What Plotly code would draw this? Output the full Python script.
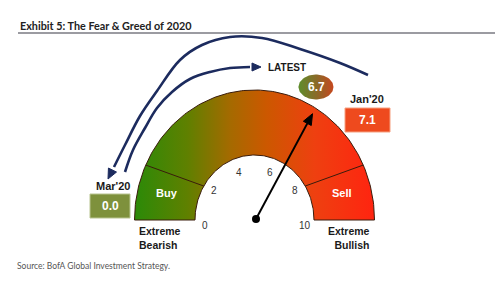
import numpy as np
import plotly.graph_objects as go

# ---------------- data ----------------
title_text = "Exhibit 5: The Fear & Greed of 2020"
source_text = "Source: BofA Global Investment Strategy."
scale_ticks = [0, 2, 4, 6, 8, 10]
zone_labels = ["Buy", "Sell"]
reading_labels = ["Mar'20", "LATEST", "Jan'20"]
reading_values = [0.0, 6.7, 7.1]
latest_value = 6.7
bear_label = ["Extreme", "Bearish"]
bull_label = ["Extreme", "Bullish"]

# ---------------- geometry / style ----------------
CX, CY = 254.5, 220
RXO, RYO = 120, 130
RXI, RYI = 59.5, 65
NAVY = "#1c2b5e"
EDGE = "#3a1c0c"
FONT = "Liberation Sans"

def theta(v):
    return np.pi * (1 - v / 10.0)

fig = go.Figure()

# gauge band
t = np.linspace(np.pi, 0, 160)
xo = CX + RXO * np.cos(t)
yo = CY - RYO * np.sin(t)
xi = CX + RXI * np.cos(t[::-1])
yi = CY - RYI * np.sin(t[::-1])
bx = np.concatenate([xo, xi, [xo[0]]])
by = np.concatenate([yo, yi, [yo[0]]])
fig.add_trace(go.Scatter(
    x=bx, y=by, mode="lines", fill="toself",
    fillgradient=dict(type="horizontal", start=CX - RXO, stop=CX + RXO,
                      colorscale=[[0, "#2b8a08"], [0.22, "#5f8000"], [0.4, "#a56a00"],
                                  [0.55, "#cc5800"], [0.75, "#ee4010"], [1, "#ff2410"]]),
    line=dict(color=EDGE, width=1), hoverinfo="skip"))

# zone dividers (Buy / Sell)
for a_out, a_in in [(np.radians(155), np.radians(148.5)), (np.radians(25), np.radians(31.5))]:
    fig.add_trace(go.Scatter(
        x=[CX + RXO * np.cos(a_out), CX + RXI * np.cos(a_in)],
        y=[CY - RYO * np.sin(a_out), CY - RYI * np.sin(a_in)],
        mode="lines", line=dict(color=EDGE, width=1), hoverinfo="skip"))

# needle
tn = theta(latest_value)
tip = np.array([CX + 0.95 * RXO * np.cos(tn), CY - 0.95 * RYO * np.sin(tn)])
piv = np.array([CX + 1.5, CY - 1])
d = (tip - piv) / np.linalg.norm(tip - piv)
p = np.array([-d[1], d[0]])
base = tip - 11 * d
fig.add_trace(go.Scatter(x=[piv[0], base[0]], y=[piv[1], base[1]], mode="lines",
                         line=dict(color="black", width=2), hoverinfo="skip"))
tri = [tip, base + 4.5 * p, base - 4.5 * p, tip]
fig.add_trace(go.Scatter(x=[q[0] for q in tri], y=[q[1] for q in tri], mode="lines",
                         fill="toself", fillcolor="black", line=dict(color="black", width=1),
                         hoverinfo="skip"))
fig.add_trace(go.Scatter(x=[piv[0]], y=[piv[1]], mode="markers",
                         marker=dict(color="black", size=8), hoverinfo="skip"))

# curved navy arrows
def arrow_curve(pts, head_tip, hl=10, hw=4.5):
    xs = [q[0] for q in pts]
    ys = [q[1] for q in pts]
    fig.add_trace(go.Scatter(x=xs, y=ys, mode="lines",
                             line=dict(color=NAVY, width=2.6, shape="spline"),
                             hoverinfo="skip"))
    end = np.array(pts[-1], dtype=float)
    tp = np.array(head_tip, dtype=float)
    dd = (tp - end) / np.linalg.norm(tp - end)
    pp = np.array([-dd[1], dd[0]])
    b = tp - hl * dd
    tr = [tp, b + hw * pp, b - hw * pp, tp]
    fig.add_trace(go.Scatter(x=[q[0] for q in tr], y=[q[1] for q in tr], mode="lines",
                             fill="toself", fillcolor=NAVY, line=dict(color=NAVY, width=1),
                             hoverinfo="skip"))

arrow_curve([(368, 75), (340, 63), (300, 49), (262, 38), (230, 37), (202, 45),
             (180, 60), (157, 91), (140, 116), (125, 145), (114, 167)], (108, 179))
arrow_curve([(125, 172), (133, 150), (145, 128), (157, 108), (172, 92), (190, 79),
             (210, 72), (230, 68), (250, 67)], (261, 67), hl=9, hw=4)

# latest bubble
te = np.linspace(0, 2 * np.pi, 80)
fig.add_trace(go.Scatter(
    x=316 + 17.5 * np.cos(te), y=87 + 12.5 * np.sin(te), mode="lines", fill="toself",
    fillgradient=dict(type="horizontal", start=299, stop=334,
                      colorscale=[[0, "#5f8c2c"], [0.5, "#8a6a28"], [1, "#c8461e"]]),
    line=dict(color="rgba(0,0,0,0)", width=0), hoverinfo="skip"))

shapes = [
    dict(type="line", xref="x", yref="y", x0=18, x1=495, y0=33, y1=33,
         line=dict(color="#7a7a82", width=1.5)),
    dict(type="rect", xref="x", yref="y", x0=345, x1=390, y0=108, y1=132,
         fillcolor="#ee4a1e", line=dict(color="#f6a080", width=1)),
    dict(type="rect", xref="x", yref="y", x0=90, x1=130, y0=194, y1=218,
         fillcolor="#7e913c", line=dict(color="#b8c490", width=1)),
]

ann = []
def txt(x, y, s, size=11, color="#1a1a1a", bold=True, xanchor="center", family=FONT, align="center"):
    ann.append(dict(x=x, y=y, xref="x", yref="y", text=s, showarrow=False,
                    xanchor=xanchor, yanchor="middle", align=align,
                    font=dict(family=family, size=size, color=color,
                              weight="bold" if bold else "normal")))

txt(18, 25, title_text, size=10.8, color="#222", xanchor="left", family="Lato")
txt(15, 266, source_text, size=8.5, color="#555", bold=False, xanchor="left", family="Lato")

# scale tick labels
for v in scale_ticks:
    a = theta(v)
    lx = CX + 50 * np.cos(a)
    ly = CY - 50 * np.sin(a) + (5 if np.sin(a) < 0.1 else 0)
    txt(lx, ly, str(v), size=10, color="#333", bold=False)

txt(167, 193, zone_labels[0], size=11, color="white")
txt(342, 193, zone_labels[1], size=11, color="white")

# readings
txt(113, 186, reading_labels[0], size=11)
txt(110, 206, f"{reading_values[0]:.1f}", size=12, color="white")
txt(287, 67.5, reading_labels[1], size=10)
txt(316, 87, f"{reading_values[1]:.1f}", size=12, color="white")
txt(366.5, 99, reading_labels[2], size=11)
txt(367.5, 120, f"{reading_values[2]:.1f}", size=12, color="white")

txt(137, 238, "<br>".join(bear_label), size=10.5, xanchor="left", align="left")
txt(372, 237.5, "<br>".join(bull_label), size=10.5, xanchor="right", align="right")

fig.update_layout(
    width=500, height=284, margin=dict(l=0, r=0, t=0, b=0),
    paper_bgcolor="white", plot_bgcolor="white", showlegend=False,
    xaxis=dict(range=[0, 500], visible=False, fixedrange=True),
    yaxis=dict(range=[284, 0], visible=False, fixedrange=True),
    shapes=shapes, annotations=ann,
)
fig.write_html("out.html", config={"displayModeBar": False})
